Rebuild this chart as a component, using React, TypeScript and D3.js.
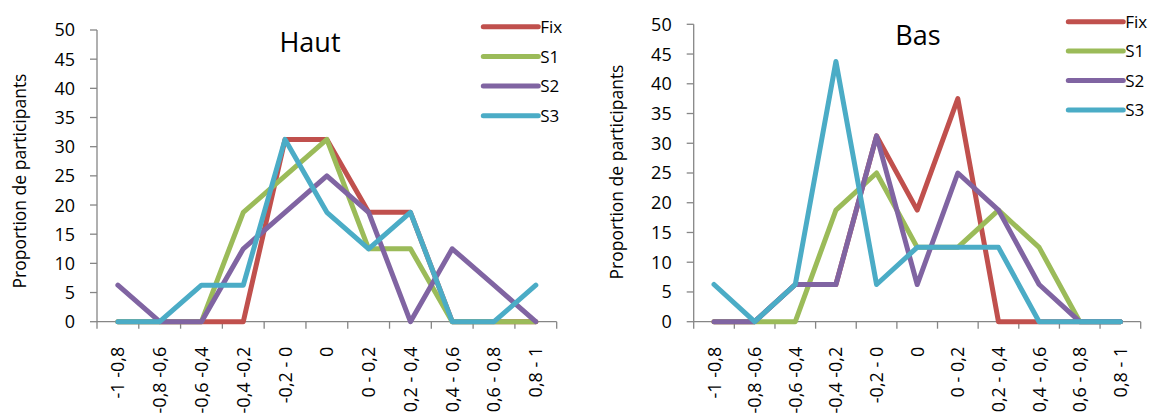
import React from "react";
import * as d3 from "d3";

const categories = ["-1 -0,8", "-0,8 -0,6", "-0,6 -0,4", "-0,4 -0,2", "-0,2 - 0", "0", "0 - 0,2", "0,2 - 0,4", "0,4 - 0,6", "0,6 - 0,8", "0,8 - 1"];
const seriesNames = ["Fix", "S1", "S2", "S3"];
const yTicks = [0, 5, 10, 15, 20, 25, 30, 35, 40, 45, 50];

const hautFix = [0, 0, 0, 0, 31.25, 31.25, 18.75, 18.75, 0, 0, 0];
const hautS1 = [0, 0, 0, 18.75, 25, 31.25, 12.5, 12.5, 0, 0, 0];
const hautS2 = [6.25, 0, 0, 12.5, 18.75, 25, 18.75, 0, 12.5, 6.25, 0];
const hautS3 = [0, 0, 6.25, 6.25, 31.25, 18.75, 12.5, 18.75, 0, 0, 6.25];

const basFix = [0, 0, 6.25, 6.25, 31.25, 18.75, 37.5, 0, 0, 0, 0];
const basS1 = [0, 0, 0, 18.75, 25, 12.5, 12.5, 18.75, 12.5, 0, 0];
const basS2 = [0, 0, 6.25, 6.25, 31.25, 6.25, 25, 18.75, 6.25, 0, 0];
const basS3 = [6.25, 0, 6.25, 43.75, 6.25, 12.5, 12.5, 12.5, 0, 0, 0];

const colors = ["#C0504D", "#9BBB59", "#8064A2", "#4BACC6"];
const FONT = "'Open Sans', Lato, sans-serif";

type Cfg = {
  title: string;
  series: number[][];
  x0: number; x1: number; yTop: number; yBottom: number;
  titleX: number; titleY: number;
  axisTitleX: number; axisTitleY: number;
  legX: number; legY: number; legStep: number;
};

function Chart({ cfg }: { cfg: Cfg }) {
  const x = d3.scaleBand<string>().domain(categories).range([cfg.x0, cfg.x1]).padding(0);
  const y = d3.scaleLinear().domain([0, 50]).range([cfg.yBottom, cfg.yTop]);
  const line = d3
    .line<number>()
    .x((_, i) => (x(categories[i]) as number) + x.bandwidth() / 2)
    .y((d) => y(d));
  const boundaries = categories.map((c) => x(c) as number).concat([cfg.x1]);
  const axisColor = "#868686";
  return (
    <g fontFamily={FONT}>
      <line x1={cfg.x0} x2={cfg.x0} y1={y(50)} y2={y(0)} stroke={axisColor} strokeWidth={1.3} />
      {yTicks.map((t) => (
        <g key={t}>
          <line x1={cfg.x0 - 7} x2={cfg.x0} y1={y(t)} y2={y(t)} stroke={axisColor} strokeWidth={1.3} />
          <text x={cfg.x0 - 22} y={y(t)} dy="0.36em" textAnchor="end" fontSize={18} fill="#000">
            {t}
          </text>
        </g>
      ))}
      <line x1={cfg.x0} x2={cfg.x1} y1={y(0)} y2={y(0)} stroke={axisColor} strokeWidth={1.3} />
      {boundaries.map((b, i) => (
        <line key={i} x1={b} x2={b} y1={y(0)} y2={y(0) + 7} stroke={axisColor} strokeWidth={1.3} />
      ))}
      {categories.map((c) => (
        <text
          key={c}
          transform={`translate(${(x(c) as number) + x.bandwidth() / 2},${y(0) + 25}) rotate(-90)`}
          dy="0.36em"
          textAnchor="end"
          fontSize={18}
          fill="#000"
        >
          {c}
        </text>
      ))}
      <text
        transform={`translate(${cfg.axisTitleX},${cfg.axisTitleY}) rotate(-90)`}
        dy="0.36em"
        textAnchor="middle"
        fontSize={17.5}
        fill="#000"
      >
        Proportion de participants
      </text>
      <text x={cfg.titleX} y={cfg.titleY} textAnchor="middle" fontSize={27} fill="#000">
        {cfg.title}
      </text>
      {cfg.series.map((s, i) => (
        <path
          key={i}
          d={line(s) as string}
          fill="none"
          stroke={colors[i]}
          strokeWidth={5}
          strokeLinecap="round"
          strokeLinejoin="round"
        />
      ))}
      {seriesNames.map((n, i) => (
        <g key={n}>
          <line
            x1={cfg.legX}
            x2={cfg.legX + 55}
            y1={cfg.legY + i * cfg.legStep}
            y2={cfg.legY + i * cfg.legStep}
            stroke={colors[i]}
            strokeWidth={5}
            strokeLinecap="round"
          />
          <text x={cfg.legX + 57} y={cfg.legY + i * cfg.legStep} dy="0.36em" fontSize={17} fill="#000">
            {n}
          </text>
        </g>
      ))}
    </g>
  );
}

const haut: Cfg = {
  title: "Haut",
  series: [hautFix, hautS1, hautS2, hautS3],
  x0: 97, x1: 556.7, yTop: 30, yBottom: 321.7,
  titleX: 310, titleY: 52,
  axisTitleX: 20, axisTitleY: 181,
  legX: 483.3, legY: 26.7, legStep: 29.7,
};

const bas: Cfg = {
  title: "Bas",
  series: [basFix, basS1, basS2, basS3],
  x0: 693.7, x1: 1140.7, yTop: 24.3, yBottom: 321.7,
  titleX: 918, titleY: 45,
  axisTitleX: 616.7, axisTitleY: 172,
  legX: 1068.3, legY: 21.7, legStep: 29.4,
};

export default function App() {
  return (
    <svg
      width={1152}
      height={414}
      style={{ position: "absolute", left: 0, top: 0, background: "#fff" }}
    >
      <rect width={1152} height={414} fill="#fff" />
      <Chart cfg={haut} />
      <Chart cfg={bas} />
    </svg>
  );
}
